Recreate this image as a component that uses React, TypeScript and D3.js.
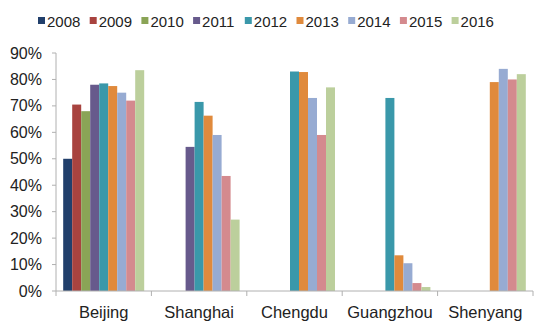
import React from "react";
import * as d3 from "d3";

const cities = ["Beijing", "Shanghai", "Chengdu", "Guangzhou", "Shenyang"];
const years = ["2008", "2009", "2010", "2011", "2012", "2013", "2014", "2015", "2016"];
const colors = ["#213f6b", "#a8433f", "#8aa456", "#675a8c", "#3a98aa", "#e08a3c", "#97abd2", "#d48a8e", "#bccf9c"];
// values per city, one per year in %, null = no bar
const beijing = [50, 70.5, 68, 78, 78.5, 77.5, 75, 72, 83.5];
const shanghai = [null, null, null, 54.5, 71.5, 66.3, 59, 43.5, 27];
const chengdu = [null, null, null, null, 83, 82.8, 73, 59, 77];
const guangzhou = [null, null, null, null, 73, 13.5, 10.5, 3, 1.5];
const shenyang = [null, null, null, null, null, 79, 84, 80, 82];
const values: (number | null)[][] = [beijing, shanghai, chengdu, guangzhou, shenyang];
const yTicks = [0, 10, 20, 30, 40, 50, 60, 70, 80, 90];

export default function App() {
  const W = 550, H = 330;
  const left = 56, right = 533, top = 53, bottom = 291;
  const x0 = d3.scaleBand().domain(cities).range([left, right]).padding(0);
  const x1 = d3.scaleBand().domain(years).range([7.2, x0.bandwidth() - 7.2]).padding(0);
  const y = d3.scaleLinear().domain([0, 90]).range([bottom, top]);
  const font = "Arial, 'Liberation Sans', sans-serif";
  const axisColor = "#b0b0b0";
  const boundaries = [...cities.map((c) => x0(c)!), right];
  return (
    <svg width={W} height={H} style={{ position: "absolute", left: 0, top: 0, background: "#fff" }}>
      {years.map((yr, i) => {
        const lx = 38 + i * 51.7;
        return (
          <g key={yr}>
            <rect x={lx} y={17} width={7} height={7} fill={colors[i]} />
            <text x={lx + 9} y={26.5} fontSize={15} fontFamily={font} fill="#222">{yr}</text>
          </g>
        );
      })}
      <line x1={left} x2={left} y1={y(90)} y2={bottom} stroke={axisColor} />
      {yTicks.map((t) => (
        <g key={t}>
          <line x1={left - 4} x2={left} y1={y(t)} y2={y(t)} stroke={axisColor} />
          <text x={42} y={y(t) + 5.5} textAnchor="end" fontSize={16} fontFamily={font} fill="#222">{t}%</text>
        </g>
      ))}
      {cities.map((c, ci) => (
        <g key={c} transform={`translate(${x0(c)},0)`}>
          {values[ci].map((v, yi) =>
            v == null ? null : (
              <rect key={yi} x={x1(years[yi])} y={y(v)} width={x1.bandwidth()} height={bottom - y(v)} fill={colors[yi]} />
            )
          )}
        </g>
      ))}
      <line x1={left} x2={right} y1={bottom} y2={bottom} stroke={axisColor} />
      {boundaries.map((b, i) => (
        <line key={i} x1={b} x2={b} y1={bottom} y2={bottom + 5} stroke={axisColor} />
      ))}
      {cities.map((c) => (
        <text key={c} x={x0(c)! + x0.bandwidth() / 2} y={318} textAnchor="middle" fontSize={16.5} fontFamily={font} fill="#222">{c}</text>
      ))}
    </svg>
  );
}
